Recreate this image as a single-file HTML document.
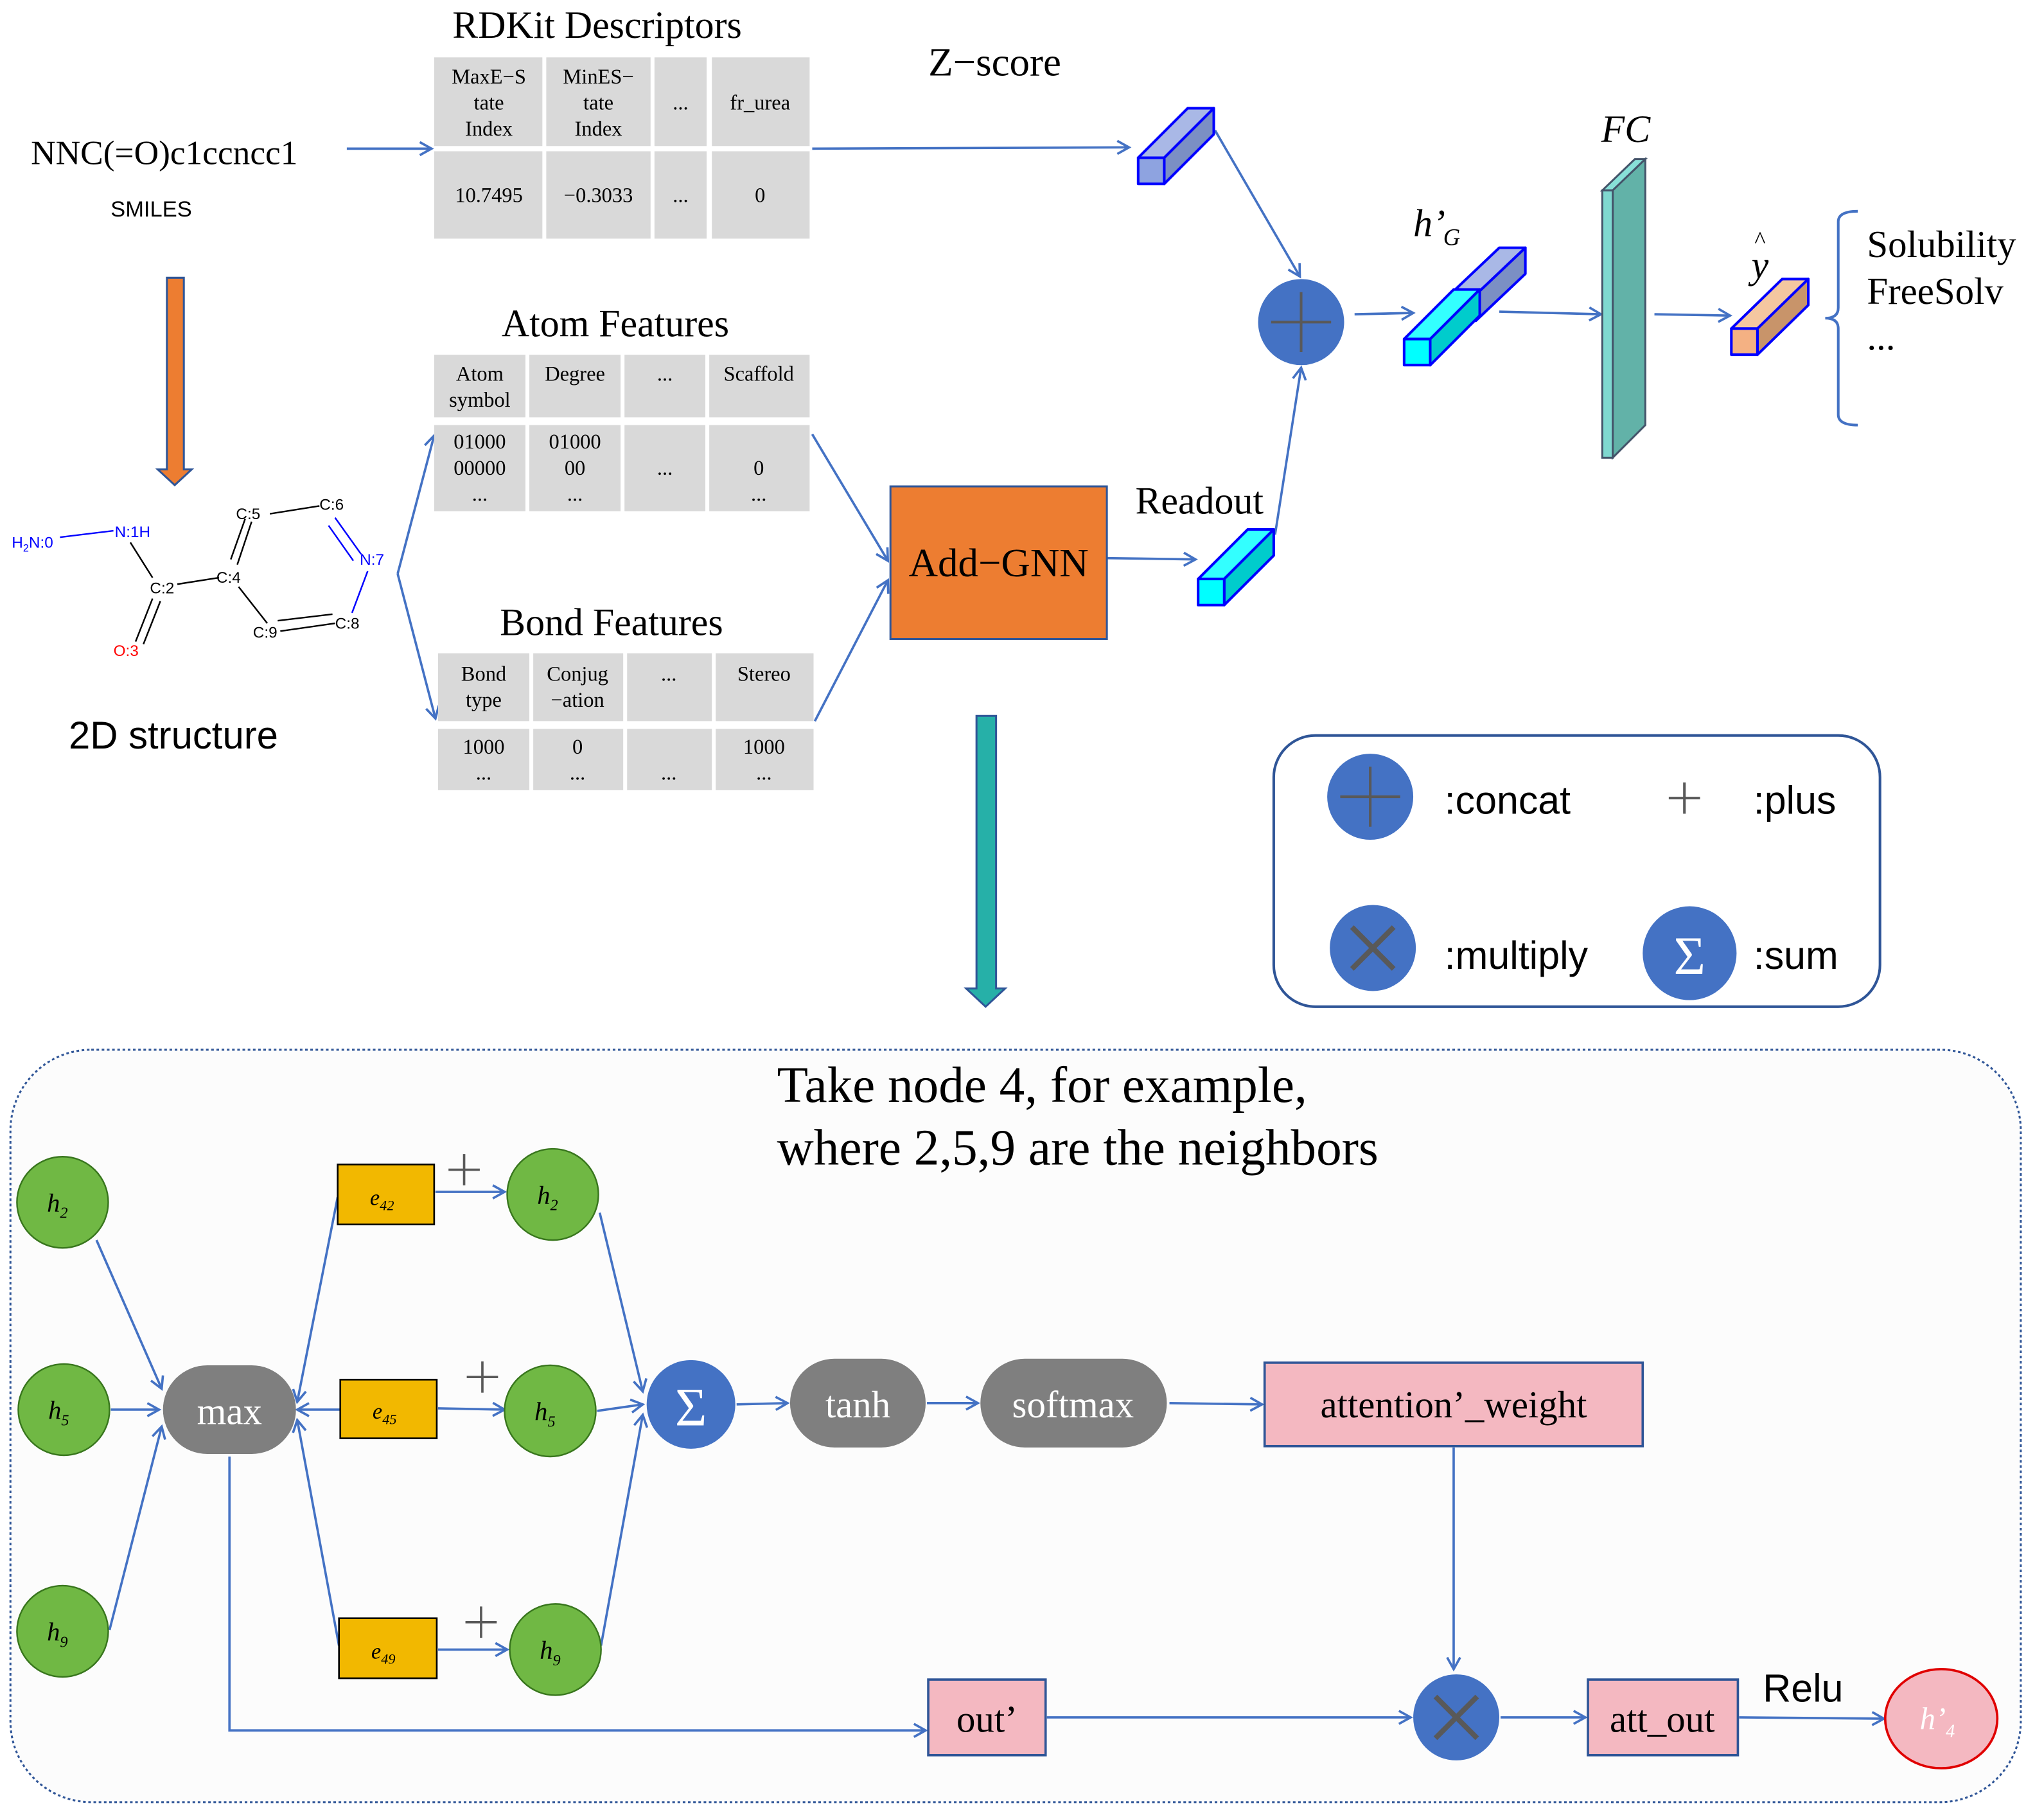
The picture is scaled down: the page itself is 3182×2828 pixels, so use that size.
<!DOCTYPE html>
<html><head><meta charset="utf-8"><style>html,body{margin:0;padding:0;background:#fff}svg{display:block}</style></head><body>
<svg width="3182" height="2828" viewBox="0 0 1567.8 1393.4" xmlns="http://www.w3.org/2000/svg" font-family="Liberation Serif, serif">
<defs>
<marker id="a" markerWidth="12" markerHeight="12" refX="10" refY="6" orient="auto" markerUnits="userSpaceOnUse"><path d="M1,1 L10,6 L1,11" fill="none" stroke="#4472c4" stroke-width="1.8"/></marker>
</defs>
<!-- bottom panel -->
<rect x="8" y="805" width="1542" height="577" rx="62" fill="#fcfcfc" stroke="#2f5597" stroke-width="1.5" stroke-dasharray="2,2"/>
<g stroke="#4472c4" stroke-width="1.8" fill="none" marker-end="url(#a)">
<line x1="266" y1="114" x2="331" y2="114"/>
<line x1="623" y1="114" x2="866" y2="113"/>
<line x1="932" y1="100" x2="997" y2="212"/>
<line x1="978" y1="410" x2="998" y2="282"/>
<line x1="1039" y1="241" x2="1084" y2="240"/>
<line x1="1150" y1="239" x2="1228" y2="241"/>
<line x1="1269" y1="241" x2="1327" y2="242"/>
<line x1="305" y1="440" x2="333" y2="334"/>
<line x1="305" y1="440" x2="334" y2="551"/>
<line x1="623" y1="333" x2="681" y2="430"/>
<line x1="625" y1="553" x2="681" y2="445"/>
<line x1="849" y1="428" x2="917" y2="429"/>
<line x1="74" y1="951" x2="124" y2="1065"/>
<line x1="85" y1="1081" x2="122" y2="1081"/>
<line x1="84" y1="1250" x2="124" y2="1094"/>
<line x1="259" y1="918" x2="228" y2="1075"/>
<line x1="261" y1="1081" x2="228" y2="1081"/>
<line x1="260" y1="1262" x2="228" y2="1089"/>
<line x1="334" y1="914" x2="387" y2="914"/>
<line x1="336" y1="1080" x2="387" y2="1081"/>
<line x1="336" y1="1265" x2="389" y2="1265"/>
<line x1="460" y1="930" x2="493" y2="1067"/>
<line x1="458" y1="1082" x2="493" y2="1077"/>
<line x1="461" y1="1262" x2="493" y2="1085"/>
<line x1="565" y1="1077" x2="604" y2="1076"/>
<line x1="711" y1="1076" x2="750" y2="1076"/>
<line x1="897" y1="1076" x2="968" y2="1077"/>
<line x1="1115" y1="1110" x2="1115" y2="1280"/>
<polyline points="176,1117 176,1327 710,1327"/>
<line x1="803" y1="1317" x2="1082" y2="1317"/>
<line x1="1151" y1="1317" x2="1216" y2="1317"/>
<line x1="1334" y1="1317" x2="1445" y2="1318"/>
</g>
<!-- brace -->
<path d="M1425,162 Q1410,162 1410,170 L1410,236 Q1410,244 1400,244 Q1410,244 1410,252 L1410,318 Q1410,326 1425,326" fill="none" stroke="#4472c4" stroke-width="2"/>
<!-- texts top -->
<g font-size="29.5" fill="#000">
<text x="458" y="29" text-anchor="middle">RDKit Descriptors</text>
<text x="763" y="58" text-anchor="middle" font-size="31">Z−score</text>
<text x="126" y="126" text-anchor="middle" font-size="26.3">NNC(=O)c1ccncc1</text>
<text x="472" y="258" text-anchor="middle">Atom Features</text>
<text x="469" y="487" text-anchor="middle">Bond Features</text>
<text x="920" y="394" text-anchor="middle">Readout</text>
<text x="1432" y="197" font-size="29">Solubility</text>
<text x="1432" y="233" font-size="29">FreeSolv</text>
<text x="1432" y="268" font-size="29">...</text>
<text x="1247" y="109" text-anchor="middle" font-style="italic">FC</text>
<text x="1084" y="181" font-style="italic">h’</text><text x="1107" y="188" font-size="18" font-style="italic">G</text>
<text x="1350" y="213" text-anchor="middle" font-style="italic">y</text><text x="1350" y="190" text-anchor="middle" font-size="18">^</text>
</g>
<text x="116" y="166" text-anchor="middle" font-family="Liberation Sans, sans-serif" font-size="17">SMILES</text>
<text x="133" y="574" text-anchor="middle" font-family="Liberation Sans, sans-serif" font-size="29.5">2D structure</text>
<!-- tables -->
<g fill="#d9d9d9">
<rect x="333" y="44" width="83" height="68"/><rect x="419" y="44" width="80" height="68"/><rect x="502" y="44" width="40" height="68"/><rect x="546" y="44" width="75" height="68"/>
<rect x="333" y="116" width="83" height="67"/><rect x="419" y="116" width="80" height="67"/><rect x="502" y="116" width="40" height="67"/><rect x="546" y="116" width="75" height="67"/>
<rect x="333" y="272" width="70" height="48"/><rect x="406" y="272" width="70" height="48"/><rect x="479" y="272" width="62" height="48"/><rect x="544" y="272" width="77" height="48"/>
<rect x="333" y="326" width="70" height="66"/><rect x="406" y="326" width="70" height="66"/><rect x="479" y="326" width="62" height="66"/><rect x="544" y="326" width="77" height="66"/>
<rect x="336" y="501" width="70" height="52"/><rect x="409" y="501" width="69" height="52"/><rect x="481" y="501" width="65" height="52"/><rect x="549" y="501" width="75" height="52"/>
<rect x="336" y="559" width="70" height="47"/><rect x="409" y="559" width="69" height="47"/><rect x="481" y="559" width="65" height="47"/><rect x="549" y="559" width="75" height="47"/>
</g>
<g font-size="16" text-anchor="middle" fill="#000">
<text x="375" y="64">MaxE−S</text><text x="375" y="84">tate</text><text x="375" y="104">Index</text>
<text x="459" y="64">MinES−</text><text x="459" y="84">tate</text><text x="459" y="104">Index</text>
<text x="522" y="84">...</text><text x="583" y="84">fr_urea</text>
<text x="375" y="155">10.7495</text><text x="459" y="155">−0.3033</text><text x="522" y="155">...</text><text x="583" y="155">0</text>
<text x="368" y="292">Atom</text><text x="368" y="312">symbol</text><text x="441" y="292">Degree</text><text x="510" y="292">...</text><text x="582" y="292">Scaffold</text>
<text x="368" y="344">01000</text><text x="368" y="364">00000</text><text x="368" y="384">...</text>
<text x="441" y="344">01000</text><text x="441" y="364">00</text><text x="441" y="384">...</text>
<text x="510" y="364">...</text><text x="582" y="364">0</text><text x="582" y="384">...</text>
<text x="371" y="522">Bond</text><text x="371" y="542">type</text><text x="443" y="522">Conjug</text><text x="443" y="542">−ation</text><text x="513" y="522">...</text><text x="586" y="522">Stereo</text>
<text x="371" y="578">1000</text><text x="371" y="598">...</text><text x="443" y="578">0</text><text x="443" y="598">...</text><text x="513" y="598">...</text><text x="586" y="578">1000</text><text x="586" y="598">...</text>
</g>
<!-- arrows thick -->
<polygon points="128,213 141,213 141,360 147,360 134,372 121,360 128,360" fill="#ed7d31" stroke="#2f5597" stroke-width="1.5"/>
<polygon points="749,549 764,549 764,758 771,758 756,772 741,758 749,758" fill="#26b0a8" stroke="#2f5597" stroke-width="1.5"/>
<!-- molecule -->
<g stroke-width="1.2" fill="none">
<line x1="46" y1="412" x2="87" y2="407" stroke="#0000ff"/>
<line x1="100" y1="416" x2="117" y2="443" stroke="#000"/>
<line x1="136" y1="448" x2="168" y2="443" stroke="#000"/>
<line x1="117" y1="459" x2="104" y2="492" stroke="#000"/><line x1="123" y1="461" x2="110" y2="494" stroke="#000"/>
<line x1="182" y1="433" x2="193" y2="400" stroke="#000"/><line x1="177" y1="429" x2="188" y2="398" stroke="#000"/>
<line x1="207" y1="394" x2="245" y2="388" stroke="#000"/>
<line x1="257" y1="397" x2="277" y2="425" stroke="#0000ff"/><line x1="252" y1="403" x2="271" y2="430" stroke="#0000ff"/>
<line x1="282" y1="438" x2="270" y2="470" stroke="#0000ff"/>
<line x1="183" y1="450" x2="205" y2="478" stroke="#000"/>
<line x1="215" y1="484" x2="257" y2="478" stroke="#000"/><line x1="213" y1="476" x2="255" y2="471" stroke="#000"/>
</g>
<g font-family="Liberation Sans, sans-serif" font-size="12">
<text x="9" y="420" fill="#0000ff">H<tspan font-size="8" dy="3">2</tspan><tspan dy="-3">N:0</tspan></text>
<text x="88" y="412" fill="#0000ff">N:1H</text>
<text x="115" y="455" fill="#000">C:2</text>
<text x="87" y="503" fill="#ff0000">O:3</text>
<text x="166" y="447" fill="#000">C:4</text>
<text x="181" y="398" fill="#000">C:5</text>
<text x="245" y="391" fill="#000">C:6</text>
<text x="276" y="433" fill="#0000ff">N:7</text>
<text x="257" y="482" fill="#000">C:8</text>
<text x="194" y="489" fill="#000">C:9</text>
</g>
<!-- Add-GNN -->
<rect x="683" y="373" width="166" height="117" fill="#ed7d31" stroke="#2f5597" stroke-width="1.5"/>
<text x="766" y="442" text-anchor="middle" font-size="31">Add−GNN</text>
<!-- cuboids -->
<g stroke="#0000ff" stroke-width="2" stroke-linejoin="round">
<polygon points="873,121 911,83 931,83 893,121" fill="#a9b8e6"/><polygon points="893,121 931,83 931,103 893,141" fill="#7b8fc4"/><rect x="873" y="121" width="20" height="20" fill="#8ea3e0"/>
<polygon points="919,444 957,406 977,406 939,444" fill="#3ff"/><polygon points="939,444 977,406 977,426 939,464" fill="#00cccc"/><rect x="919" y="444" width="20" height="20" fill="#0ff"/>
<polygon points="1112,226 1150,190 1170,190 1132,226" fill="#a9b8e6"/><polygon points="1132,226 1170,190 1170,210 1132,246" fill="#7b8fc4"/>
<polygon points="1077,260 1115,222 1135,222 1097,260" fill="#3ff"/><polygon points="1097,260 1135,222 1135,242 1097,280" fill="#00cccc"/><rect x="1077" y="260" width="20" height="20" fill="#0ff"/>
<polygon points="1328,252 1367,214 1387,214 1348,252" fill="#f4c7a0"/><polygon points="1348,252 1387,214 1387,234 1348,272" fill="#c8946a"/><rect x="1328" y="252" width="20" height="20" fill="#f4b183"/>
</g>
<g stroke="#44546a" stroke-width="1.5">
<polygon points="1229,146 1254,122 1262,122 1237,146" fill="#88e0d8"/><polygon points="1237,146 1262,122 1262,326 1237,351" fill="#62b2a8"/><rect x="1229" y="146" width="8" height="205" fill="#7fd8d0"/>
</g>
<!-- concat circle -->
<circle cx="998" cy="247" r="33" fill="#4472c4"/>
<path d="M975,247 H1021 M998,224 V270" stroke="#595959" stroke-width="2"/>
<!-- legend -->
<rect x="977" y="564" width="465" height="208" rx="32" fill="#fff" stroke="#2f5597" stroke-width="2"/>
<circle cx="1051" cy="611" r="33" fill="#4472c4"/><path d="M1028,611 H1074 M1051,588 V634" stroke="#595959" stroke-width="2"/>
<path d="M1280,612 H1304 M1292,600 V624" stroke="#595959" stroke-width="2"/>
<circle cx="1053" cy="727" r="33" fill="#4472c4"/><path d="M1037,711 L1069,743 M1069,711 L1037,743" stroke="#595959" stroke-width="4"/>
<circle cx="1296" cy="731" r="36" fill="#4472c4"/><text x="1296" y="747" text-anchor="middle" font-size="42" fill="#fff">Σ</text>
<g font-family="Liberation Sans, sans-serif" font-size="30" fill="#000">
<text x="1108" y="624">:concat</text><text x="1345" y="624">:plus</text>
<text x="1108" y="743">:multiply</text><text x="1345" y="743">:sum</text>
</g>
<text x="596" y="845" font-size="39">Take node 4, for example,</text>
<text x="596" y="893" font-size="39">where 2,5,9 are the neighbors</text>
<g stroke-width="1.8" stroke="#2f5597">
<g fill="#70b844" stroke="#38761d" stroke-width="1.2">
<circle cx="48" cy="922" r="35"/><circle cx="49" cy="1081" r="35"/><circle cx="48" cy="1251" r="35"/>
<circle cx="424" cy="916" r="35"/><circle cx="422" cy="1082" r="35"/><circle cx="426" cy="1265" r="35"/>
</g>
<rect x="259" y="893" width="74" height="46" fill="#f2b800" stroke="#000" stroke-width="1.3"/>
<rect x="261" y="1058" width="74" height="45" fill="#f2b800" stroke="#000" stroke-width="1.3"/>
<rect x="260" y="1241" width="75" height="46" fill="#f2b800" stroke="#000" stroke-width="1.3"/>
<rect x="970" y="1045" width="290" height="64" fill="#f4b8c1"/>
<rect x="712" y="1288" width="90" height="58" fill="#f4b8c1"/>
<rect x="1218" y="1288" width="115" height="58" fill="#f4b8c1"/>
<ellipse cx="1489" cy="1318" rx="43" ry="38" fill="#f4b8c1" stroke="#e00000"/>
</g>
<rect x="125" y="1047" width="102" height="68" rx="34" fill="#7f7f7f"/>
<rect x="606" y="1042" width="104" height="68" rx="34" fill="#7f7f7f"/>
<rect x="752" y="1042" width="143" height="68" rx="34" fill="#7f7f7f"/>
<circle cx="530" cy="1077" r="34" fill="#4472c4"/><text x="530" y="1093" text-anchor="middle" font-size="42" fill="#fff">Σ</text>
<circle cx="1117" cy="1317" r="33" fill="#4472c4"/><path d="M1101,1301 L1133,1333 M1133,1301 L1101,1333" stroke="#595959" stroke-width="4"/>
<g stroke="#595959" stroke-width="1.8">
<path d="M344,897 H368 M356,885 V909"/><path d="M358,1056 H382 M370,1044 V1068"/><path d="M357,1244 H381 M369,1232 V1256"/>
</g>
<g font-style="italic" font-size="20" fill="#000" text-anchor="middle">
<text x="44" y="929">h<tspan font-size="12" dy="5">2</tspan></text>
<text x="45" y="1088">h<tspan font-size="12" dy="5">5</tspan></text>
<text x="44" y="1258">h<tspan font-size="12" dy="5">9</tspan></text>
<text x="420" y="923">h<tspan font-size="12" dy="5">2</tspan></text>
<text x="418" y="1089">h<tspan font-size="12" dy="5">5</tspan></text>
<text x="422" y="1272">h<tspan font-size="12" dy="5">9</tspan></text>
<text x="293" y="924" font-size="17">e<tspan font-size="11" dy="4">42</tspan></text>
<text x="295" y="1088" font-size="17">e<tspan font-size="11" dy="4">45</tspan></text>
<text x="294" y="1272" font-size="17">e<tspan font-size="11" dy="4">49</tspan></text>
<text x="1486" y="1326" font-size="24" fill="#fff">h’<tspan font-size="14" dy="6">4</tspan></text>
</g>
<g font-size="29" text-anchor="middle">
<text x="176" y="1092" fill="#fff">max</text>
<text x="658" y="1087" fill="#fff">tanh</text>
<text x="823" y="1087" fill="#fff">softmax</text>
<text x="1115" y="1087" fill="#000">attention’_weight</text>
<text x="757" y="1328" fill="#000">out’</text>
<text x="1275" y="1328" fill="#000">att_out</text>
</g>
<text x="1383" y="1305" text-anchor="middle" font-family="Liberation Sans, sans-serif" font-size="30">Relu</text>
</svg>
</body></html>
